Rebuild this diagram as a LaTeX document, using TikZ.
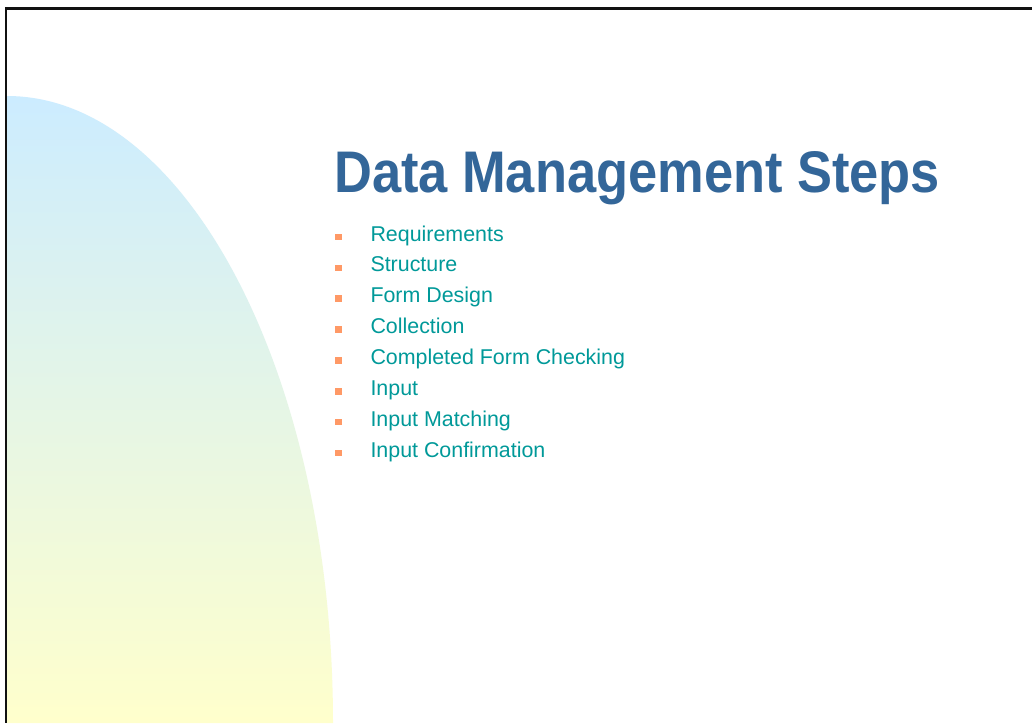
\documentclass[tikz,border=0pt]{standalone}
\usepackage{fontspec}
\setmainfont{Liberation Sans}
\definecolor{skyc}{RGB}{204,236,255}
\definecolor{yelc}{RGB}{255,255,204}
\definecolor{titlec}{RGB}{51,102,153}
\definecolor{itemc}{RGB}{0,153,153}
\definecolor{bulletc}{RGB}{255,153,102}
\definecolor{framec}{RGB}{17,17,17}
\begin{document}
\begin{tikzpicture}[x=1pt,y=-1pt,
  titlestyle/.style={anchor=base west,inner sep=0pt,text=titlec,font=\fontsize{58.7}{60}\selectfont\bfseries},
  itemstyle/.style={anchor=base west,inner sep=0pt,text=itemc,font=\fontsize{21.4}{24}\selectfont},
  bulletstyle/.style={fill=bulletc,draw=none,minimum width=7pt,minimum height=6.5pt,inner sep=0pt,anchor=center},
  framestyle/.style={draw=framec,line width=2.5pt}]
\useasboundingbox (0,0) rectangle (1032,723);
\fill[white] (0,0) rectangle (1032,723);
% gradient quarter ellipse
\shade[top color=skyc,bottom color=yelc]
  (7,723) -- (7,96) arc[start angle=90,end angle=0,x radius=326pt,y radius=627pt] -- cycle;
% frame
\draw[framestyle] (1032,8.5) -- (6,8.5) -- (6,723);
% title
\node[titlestyle] (title) at (334,192) {\scalebox{0.893}[1]{Data Management Steps}};
% items
\foreach \i/\t in {0/Requirements,1/Structure,2/Form Design,3/Collection,4/Completed Form Checking,5/Input,6/Input Matching,7/Input Confirmation}{
  \pgfmathsetmacro{\yb}{241+30.86*\i}
  \node[bulletstyle] (b\i) at (338.8,\yb-4) {};
  \node[itemstyle] (item\i) at (370.3,\yb) {\t};
}
\end{tikzpicture}
\end{document}
